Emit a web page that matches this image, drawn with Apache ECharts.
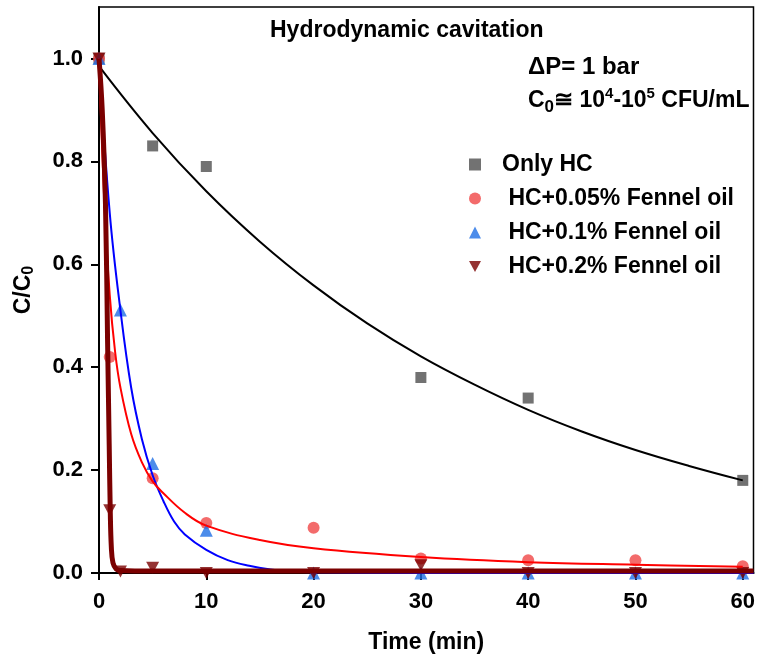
<!DOCTYPE html>
<html>
<head>
    <meta charset="utf-8">
    <title>Hydrodynamic cavitation</title>
    <script src="https://cdn.jsdelivr.net/npm/echarts@6/dist/echarts.min.js"></script>
    <style type="text/css">
        *{margin: 0;padding: 0;}
        body{background: #fff;}
        #main{width: 758px;height: 666px;}
    </style>
</head>
<body>
<div id="main"></div>
<script type="text/javascript">
    // measured points
    var timeHC = [0, 5, 10, 30, 40, 60];
    var onlyHC = [1.0, 0.83, 0.79, 0.38, 0.34, 0.18];
    var time005 = [0, 1, 5, 10, 20, 30, 40, 50, 60];
    var oil005 = [1.0, 0.42, 0.184, 0.097, 0.088, 0.028, 0.025, 0.025, 0.013];
    var time01 = [0, 2, 5, 10, 20, 30, 40, 50, 60];
    var oil01 = [1.0, 0.511, 0.213, 0.083, 0.0, 0.0, 0.0, 0.0, 0.0];
    var time02 = [0, 1, 2, 5, 10, 20, 30, 40, 50, 60];
    var oil02 = [1.0, 0.122, 0.003, 0.01, 0.0, 0.0, 0.015, 0.0, 0.0, 0.0];

    // fitted curves
    var fitTimeHC = [0, 5, 10, 15, 20, 25, 30, 35, 40, 45, 50, 55, 60];
    var fitHC = [0.985, 0.855, 0.742, 0.644, 0.559, 0.485, 0.421, 0.366, 0.317, 0.275, 0.239, 0.208, 0.180];
    var fitTime005 = [0, 0.5, 1, 1.5, 2, 3, 4, 5, 6, 8, 10, 15, 20, 30, 40, 50, 60];
    var fit005 = [1.0, 0.72, 0.54, 0.43, 0.36, 0.27, 0.215, 0.178, 0.155, 0.117, 0.092, 0.064, 0.048, 0.031, 0.021, 0.016, 0.012];
    var fitTime01 = [0, 1, 2, 3, 4, 5, 6, 7, 8, 10, 12, 14, 16, 18, 20, 30, 61];
    var fit01 = [1.0, 0.70, 0.51, 0.36, 0.26, 0.19, 0.14, 0.10, 0.075, 0.045, 0.025, 0.014, 0.007, 0.003, 0.0015, 0.0, 0.0];
    var fitTime02 = [0, 0.3, 0.6, 0.8, 0.95, 1.05, 1.15, 1.3, 1.6, 2, 5, 61];
    var fit02 = [1.0, 0.9, 0.72, 0.45, 0.25, 0.12, 0.05, 0.02, 0.008, 0.005, 0.004, 0.004];

    var xTicks = [0, 10, 20, 30, 40, 50, 60];
    var yTicks = [0, 0.2, 0.4, 0.6, 0.8, 1.0];

    var names = ['Only HC', ' HC+0.05% Fennel oil', ' HC+0.1% Fennel oil', ' HC+0.2% Fennel oil'];
    var fontF = 'Arial, "Liberation Sans", sans-serif';

    function pairs(xs, ys) {
        var out = [];
        for (var i = 0; i < xs.length; i++) {
            out.push([xs[i], ys[i]]);
        }
        return out;
    }

    var downTri = 'path://M0,0 L10,0 L5,9 Z';

    var myChart = echarts.init(document.getElementById('main'));
    var option = {
        animation: false,
        title: [
            {
                text: 'Hydrodynamic cavitation',
                left: 270, top: 16, padding: 0,
                textStyle: {fontFamily: fontF, fontSize: 23, fontWeight: 'bold', color: '#000', lineHeight: 30}
            },
            {
                text: '\u0394P= 1 bar',
                left: 528, top: 52, padding: 0,
                textStyle: {fontFamily: fontF, fontSize: 24, fontWeight: 'bold', color: '#000', lineHeight: 30}
            },
            {
                text: '{m|C}{s|0}{m|\u2245 10}{p|4}{m|-10}{p|5}{m| CFU/mL}',
                left: 528, top: 86, padding: 0,
                textStyle: {
                    rich: {
                        m: {fontFamily: fontF, fontSize: 23, fontWeight: 'bold', color: '#000', lineHeight: 30, verticalAlign: 'middle'},
                        s: {fontFamily: fontF, fontSize: 17, fontWeight: 'bold', color: '#000', lineHeight: 16, verticalAlign: 'bottom'},
                        p: {fontFamily: fontF, fontSize: 15, fontWeight: 'bold', color: '#000', lineHeight: 16, verticalAlign: 'top'}
                    }
                }
            }
        ],
        legend: {
            orient: 'vertical',
            left: 469, top: 153,
            padding: 0,
            itemWidth: 12,
            itemHeight: 12,
            itemGap: 11,
            selectedMode: false,
            textStyle: {fontFamily: fontF, fontSize: 23, fontWeight: 'bold', color: '#000', lineHeight: 20, padding: [0, 0, 0, 16]},
            data: names
        },
        grid: {
            left: 99, right: 3, top: 7, bottom: 93,
            show: true,
            borderColor: '#000',
            borderWidth: 1.5
        },
        xAxis: {
            type: 'value',
            min: 0, max: 61,
            name: 'Time (min)',
            nameLocation: 'middle',
            nameGap: 58,
            nameTextStyle: {fontFamily: fontF, fontSize: 23, fontWeight: 'bold', color: '#000'},
            axisLine: {lineStyle: {color: '#000', width: 2}},
            axisTick: {customValues: xTicks, length: 7, lineStyle: {color: '#000', width: 2}},
            axisLabel: {customValues: xTicks, margin: 18, fontFamily: fontF, fontSize: 22, fontWeight: 'bold', color: '#000'},
            splitLine: {show: false}
        },
        yAxis: {
            type: 'value',
            min: 0, max: 1.1,
            name: '{a|C/C}{b|0}',
            nameLocation: 'middle',
            nameGap: 62,
            nameRotate: 90,
            nameTextStyle: {
                rich: {
                    a: {fontFamily: fontF, fontSize: 23, fontWeight: 'bold', color: '#000', lineHeight: 26, verticalAlign: 'middle'},
                    b: {fontFamily: fontF, fontSize: 16, fontWeight: 'bold', color: '#000', lineHeight: 14, verticalAlign: 'bottom'}
                }
            },
            axisLine: {lineStyle: {color: '#000', width: 2}},
            axisTick: {customValues: yTicks, length: 8, lineStyle: {color: '#000', width: 2}},
            axisLabel: {
                customValues: yTicks, margin: 16, fontFamily: fontF, fontSize: 22, fontWeight: 'bold', color: '#000',
                formatter: function (v) { return v.toFixed(1); }
            },
            splitLine: {show: false}
        },
        series: [
            {name: names[0], type: 'scatter', symbol: 'rect', symbolSize: 11, itemStyle: {color: '#4f4f4f'}, data: pairs(timeHC, onlyHC)},
            {name: names[1], type: 'scatter', symbol: 'circle', symbolSize: 12, itemStyle: {color: '#f04646'}, data: pairs(time005, oil005)},
            {name: names[2], type: 'scatter', symbol: 'triangle', symbolSize: 13, itemStyle: {color: '#1f6fe5'}, data: pairs(time01, oil01)},
            {name: names[3], type: 'scatter', symbol: downTri, symbolSize: [13, 12], itemStyle: {color: '#7b0000'}, data: pairs(time02, oil02)},
            {type: 'line', symbol: 'none', smooth: 0.4, lineStyle: {color: '#000', width: 2}, data: pairs(fitTimeHC, fitHC)},
            {type: 'line', symbol: 'none', smooth: 0.4, lineStyle: {color: '#0000ff', width: 2}, data: pairs(fitTime01, fit01)},
            {type: 'line', symbol: 'none', smooth: 0.4, lineStyle: {color: '#ff0000', width: 2}, data: pairs(fitTime005, fit005)},
            {type: 'line', symbol: 'none', smooth: 0.4, lineStyle: {color: '#7b0000', width: 5}, data: pairs(fitTime02, fit02)}
        ]
    };
    myChart.setOption(option);
</script>
</body>
</html>
